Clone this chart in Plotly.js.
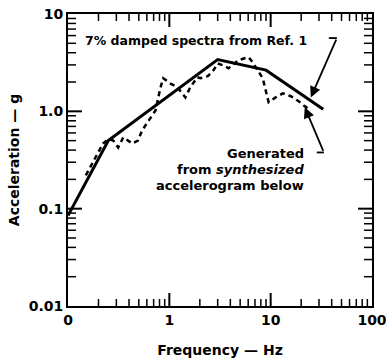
<!DOCTYPE html>
<html>
<head>
<meta charset="utf-8">
<script src="https://cdn.plot.ly/plotly-3.0.1.min.js"></script>
<style>html,body{margin:0;padding:0;background:#fff;}#chart{width:386px;height:362px;}</style>
</head>
<body>
<div id="chart"></div>
<script>
// Reference spectrum (7% damped, Ref. 1) - solid
const refFreq = [0.1, 0.25, 3.0, 9.0, 33];
const refAcc  = [0.085, 0.50, 3.4, 2.65, 1.05];

// Generated spectrum from synthesized accelerogram - dashed
const genFreq = [0.15, 0.165, 0.185, 0.222, 0.25, 0.28, 0.313, 0.351, 0.43, 0.49, 0.54, 0.65, 0.73, 0.815, 0.87, 1.02, 1.2, 1.44, 1.61, 1.89, 2.03, 2.4, 2.73, 3.0, 3.35, 3.84, 4.82, 6.05, 6.63, 8.34, 8.9, 9.55, 11.2, 13.2, 15.8, 18.9, 21.2, 24.9];
const genAcc  = [0.22, 0.265, 0.336, 0.468, 0.52, 0.50, 0.425, 0.54, 0.468, 0.50, 0.64, 0.87, 1.02, 1.73, 2.19, 1.94, 1.77, 1.39, 1.77, 2.24, 2.19, 2.3, 2.65, 3.1, 2.98, 2.77, 3.36, 3.6, 3.2, 2.19, 1.65, 1.24, 1.39, 1.53, 1.43, 1.27, 1.15, 1.02];

const xTickVals = [0.1, 1, 10, 100];
const xTickText = ['0', '1', '10', '100'];
const yTickVals = [0.01, 0.1, 1, 10];
const yTickText = ['0.01', '0.1', '1.0', '10'];

const FONT = 'DejaVu Sans';

// minor tick positions (2..9 in each decade)
function minorVals(majors) {
  const out = [];
  majors.slice(0, -1).forEach(d => { for (let k = 2; k <= 9; k++) out.push(d * k); });
  return out;
}

const traces = [
  {x: refFreq, y: refAcc, mode: 'lines', type: 'scatter',
   line: {color: '#000', width: 3}, hoverinfo: 'skip'},
  {x: genFreq, y: genAcc, mode: 'lines', type: 'scatter',
   line: {color: '#000', width: 2.5, dash: '5px,4px'}, hoverinfo: 'skip'}
];

// inward tick marks drawn as pixel-sized shapes placed through the axes' scales
const tickShapes = [];
function xTick(v, len, w) {
  [[0, 1], [1, -1]].forEach(([anchor, dir]) => tickShapes.push({
    type: 'line', xref: 'x', yref: 'paper', ysizemode: 'pixel', yanchor: anchor,
    x0: v, x1: v, y0: 0, y1: dir * len, line: {color: '#000', width: w}, layer: 'above'}));
}
function yTick(v, len, w) {
  [[0, 1], [1, -1]].forEach(([anchor, dir]) => tickShapes.push({
    type: 'line', yref: 'y', xref: 'paper', xsizemode: 'pixel', xanchor: anchor,
    y0: v, y1: v, x0: 0, x1: dir * len, line: {color: '#000', width: w}, layer: 'above'}));
}
xTickVals.slice(1, -1).forEach(v => xTick(v, 13, 2));
minorVals(xTickVals).forEach(v => xTick(v, 7, 1.5));
yTickVals.slice(1, -1).forEach(v => yTick(v, 14, 2));
minorVals(yTickVals).forEach(v => yTick(v, 8, 1.5));

const tickFont = {family: FONT, size: 14, color: '#000', weight: 'bold'};
const titleFont = {family: FONT, size: 14, color: '#000', weight: 'bold'};
const textFont = {family: FONT, size: 13, color: '#000', weight: 'bold'};
const genX = Math.log10(22.4), genY = Math.log10(0.255);

const layout = {
  width: 386, height: 362,
  margin: {l: 68, r: 14, t: 14, b: 56},
  showlegend: false,
  xaxis: {type: 'log', range: [-1, 2], tickmode: 'array', tickvals: xTickVals, ticktext: xTickText,
    ticks: '', showline: true, mirror: true, linecolor: '#000', linewidth: 2, showgrid: false, zeroline: false,
    ticklabeloverflow: 'allow', tickfont: tickFont,
    title: {text: 'Frequency — Hz', font: titleFont, standoff: 18}},
  yaxis: {type: 'log', range: [-2, 1], tickmode: 'array', tickvals: yTickVals, ticktext: yTickText,
    ticks: '', showline: true, mirror: true, linecolor: '#000', linewidth: 2, showgrid: false, zeroline: false,
    tickfont: tickFont,
    title: {text: 'Acceleration — g', font: titleFont, standoff: 6}},
  annotations: [
    {x: Math.log10(1.85), y: Math.log10(5.4), xref: 'x', yref: 'y', text: '7% damped spectra from Ref. 1',
     showarrow: false, xanchor: 'center', yanchor: 'middle',
     font: {family: FONT, size: 12.5, color: '#000', weight: 'bold'}},
    {x: Math.log10(24.9), y: Math.log10(1.39), xref: 'x', yref: 'y',
     ax: Math.log10(45), ay: Math.log10(5.66), axref: 'x', ayref: 'y',
     showarrow: true, arrowhead: 2, arrowsize: 1.2, arrowwidth: 1.8, arrowcolor: '#000', text: ''},
    {x: Math.log10(21.7), y: Math.log10(1.1), xref: 'x', yref: 'y',
     ax: Math.log10(33.5), ay: Math.log10(0.378), axref: 'x', ayref: 'y',
     showarrow: true, arrowhead: 2, arrowsize: 1.2, arrowwidth: 1.8, arrowcolor: '#000', text: ''},
    {x: genX, y: genY, xref: 'x', yref: 'y', yshift: 16, text: 'Generated',
     showarrow: false, xanchor: 'right', yanchor: 'middle', font: textFont},
    {x: genX, y: genY, xref: 'x', yref: 'y', yshift: 0, text: 'from <i>synthesized</i>',
     showarrow: false, xanchor: 'right', yanchor: 'middle', font: textFont},
    {x: genX, y: genY, xref: 'x', yref: 'y', yshift: -16, text: 'accelerogram below',
     showarrow: false, xanchor: 'right', yanchor: 'middle', font: textFont}
  ],
  shapes: [
    {type: 'line', xref: 'x', yref: 'y', x0: 37.5, x1: 45, y0: 5.66, y1: 5.66, line: {color: '#000', width: 1.8}},
    {type: 'line', xref: 'x', yref: 'y', x0: 28.5, x1: 33.5, y0: 0.378, y1: 0.378, line: {color: '#000', width: 1.8}}
  ].concat(tickShapes)
};

Plotly.newPlot('chart', traces, layout, {displayModeBar: false});
</script>
</body>
</html>
